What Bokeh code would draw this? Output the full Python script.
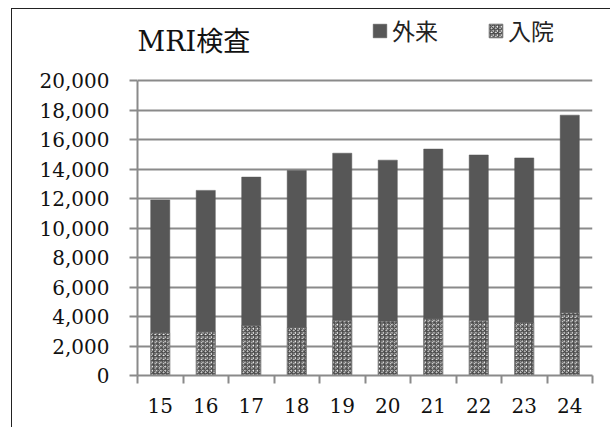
from bokeh.plotting import figure
from bokeh.models import (ColumnDataSource, Range1d, FixedTicker, NumeralTickFormatter,
                          Label, Legend, LegendItem)
from bokeh.transform import stack
from bokeh.embed import file_html
from bokeh.resources import INLINE

# fiscal years (Heisei) and MRI examination counts
years = [15, 16, 17, 18, 19, 20, 21, 22, 23, 24]
inpatient = [2900, 2970, 3400, 3250, 3750, 3700, 3850, 3750, 3600, 4250]
outpatient = [9000, 9580, 10050, 10650, 11320, 10900, 11500, 11200, 11150, 13400]
y_ticks = [0, 2000, 4000, 6000, 8000, 10000, 12000, 14000, 16000, 18000, 20000]

title_text = "MRI検査"
label_out = "外来"
label_in = "入院"

src = ColumnDataSource(dict(year=years, inp=inpatient, out=outpatient))

SERIF = "DejaVu Serif, Noto Sans CJK JP"
CJK = "Noto Sans CJK JP"
GRID = "#8a8a8a"
DARK = "#575757"

# the plotting frame reaches up to the top edge so the heading and the key
# sit inside it; the value axis itself only spans 0..20,000
FIG_H = 419
BOTTOM = 53
AXIS_PX = 295  # pixel height of the 0..20,000 span
y_max = y_ticks[-1]
y_top = y_max * (FIG_H - BOTTOM) / AXIS_PX

p = figure(width=599, height=FIG_H,
           x_range=Range1d(years[0] - 0.5, years[-1] + 0.5),
           y_range=Range1d(0, y_top),
           output_backend="svg", toolbar_location=None,
           min_border_left=125, min_border_right=19,
           min_border_top=0, min_border_bottom=BOTTOM)
p.styles = {"margin-left": "11px", "margin-top": "8px",
            "border-left": "1px solid #222", "border-top": "1px solid #222"}
p.background_fill_color = "white"
p.border_fill_color = "white"
p.outline_line_color = None

r_in = p.vbar(x="year", bottom=0, top="inp", width=0.42, source=src,
              fill_color="white", line_color="#777777", line_width=1,
              hatch_pattern="criss_cross", hatch_color="#4a4a4a",
              hatch_scale=4.2, hatch_weight=1.1)
r_out = p.vbar(x="year", bottom="inp", top=stack("inp", "out"), width=0.42,
               source=src, fill_color=DARK, line_color=DARK, line_width=0.5)

# x axis: labels under each year, ticks between years
xa = p.xaxis[0]
xa.ticker = FixedTicker(ticks=years,
                        minor_ticks=[y - 0.5 for y in years] + [years[-1] + 0.5])
xa.major_tick_out = 0
xa.major_tick_in = 0
xa.minor_tick_out = 8
xa.minor_tick_in = 0
xa.minor_tick_line_color = GRID
xa.minor_tick_line_width = 2
xa.axis_line_color = GRID
xa.axis_line_width = 2
xa.major_label_text_font = SERIF
xa.major_label_text_font_size = "20px"
xa.major_label_text_color = "#111111"
xa.major_label_standoff = 14

ya = p.yaxis[0]
ya.ticker = FixedTicker(ticks=y_ticks)
ya.formatter = NumeralTickFormatter(format="0,0")
ya.bounds = (0, y_max)
ya.major_tick_out = 8
ya.major_tick_in = 0
ya.minor_tick_line_color = None
ya.major_tick_line_color = GRID
ya.major_tick_line_width = 2
ya.axis_line_color = GRID
ya.axis_line_width = 2
ya.major_label_text_font = SERIF
ya.major_label_text_font_size = "20px"
ya.major_label_text_color = "#111111"
ya.major_label_standoff = 20

p.xgrid.grid_line_color = None
p.ygrid.grid_line_color = GRID
p.ygrid.grid_line_width = 2

p.add_layout(Label(x=0, y=334, x_units="screen", y_units="screen",
                   text=title_text, text_font=SERIF,
                   text_font_size="27px", text_color="#111111",
                   text_baseline="alphabetic"))

legend = Legend(items=[LegendItem(label=label_out, renderers=[r_out]),
                       LegendItem(label=label_in, renderers=[r_in])],
                orientation="horizontal", location=(234, 328),
                border_line_color=None, background_fill_alpha=0,
                padding=0, margin=0, spacing=49, label_standoff=4,
                glyph_width=17, glyph_height=17,
                label_text_font=CJK, label_text_font_size="23px",
                label_text_color="#222222")
p.add_layout(legend)

open("out.html", "w").write(file_html(p, INLINE))
